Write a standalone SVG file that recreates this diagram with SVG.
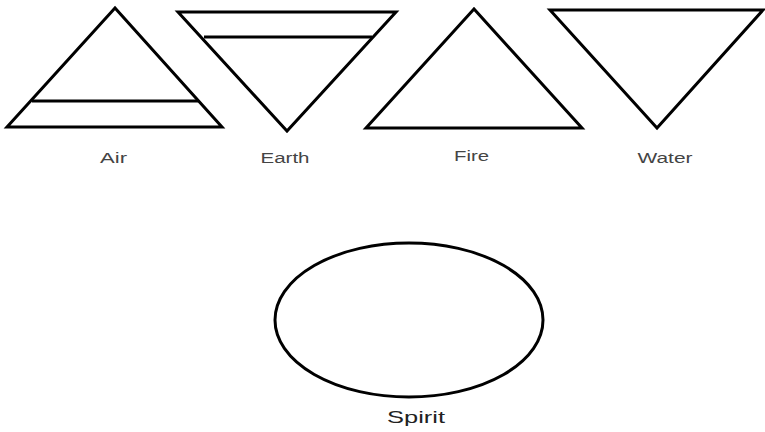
<svg xmlns="http://www.w3.org/2000/svg" width="765" height="432" viewBox="0 0 765 432">
<style>
.s{fill:#fff;stroke:#000;stroke-width:3;stroke-linejoin:miter}
.l{fill:none;stroke:#000;stroke-width:3}
.t{font-family:"Liberation Sans",Arial,sans-serif;font-size:14px;fill:#444;text-anchor:middle}
.tb{font-family:"Liberation Sans",Arial,sans-serif;font-size:17px;fill:#222;text-anchor:middle}
</style>
<rect width="765" height="432" fill="#fff"/>
<g id="air">
<polygon class="s" points="115,8 7,127 222,127"/>
<line class="l" x1="32" y1="101" x2="198" y2="101"/>
<text class="t" x="113.5" y="163" textLength="27" lengthAdjust="spacingAndGlyphs">Air</text>
</g>
<g id="earth">
<polygon class="s" points="178,12 396,12 287,131"/>
<line class="l" x1="204" y1="37" x2="372" y2="37"/>
<text class="t" x="285" y="163" textLength="49" lengthAdjust="spacingAndGlyphs">Earth</text>
</g>
<g id="fire">
<polygon class="s" points="474,9 366,128 582,128"/>
<text class="t" x="471.5" y="161" textLength="35" lengthAdjust="spacingAndGlyphs">Fire</text>
</g>
<g id="water">
<polygon class="s" points="550,10 763,10 657,128"/>
<text class="t" x="665" y="163" textLength="55" lengthAdjust="spacingAndGlyphs">Water</text>
</g>
<g id="spirit">
<ellipse class="s" cx="409" cy="320" rx="134" ry="77" stroke-width="2.5"/>
<text class="tb" x="416" y="423" textLength="58" lengthAdjust="spacingAndGlyphs">Spirit</text>
</g>
<g id="connectors"/>
</svg>
